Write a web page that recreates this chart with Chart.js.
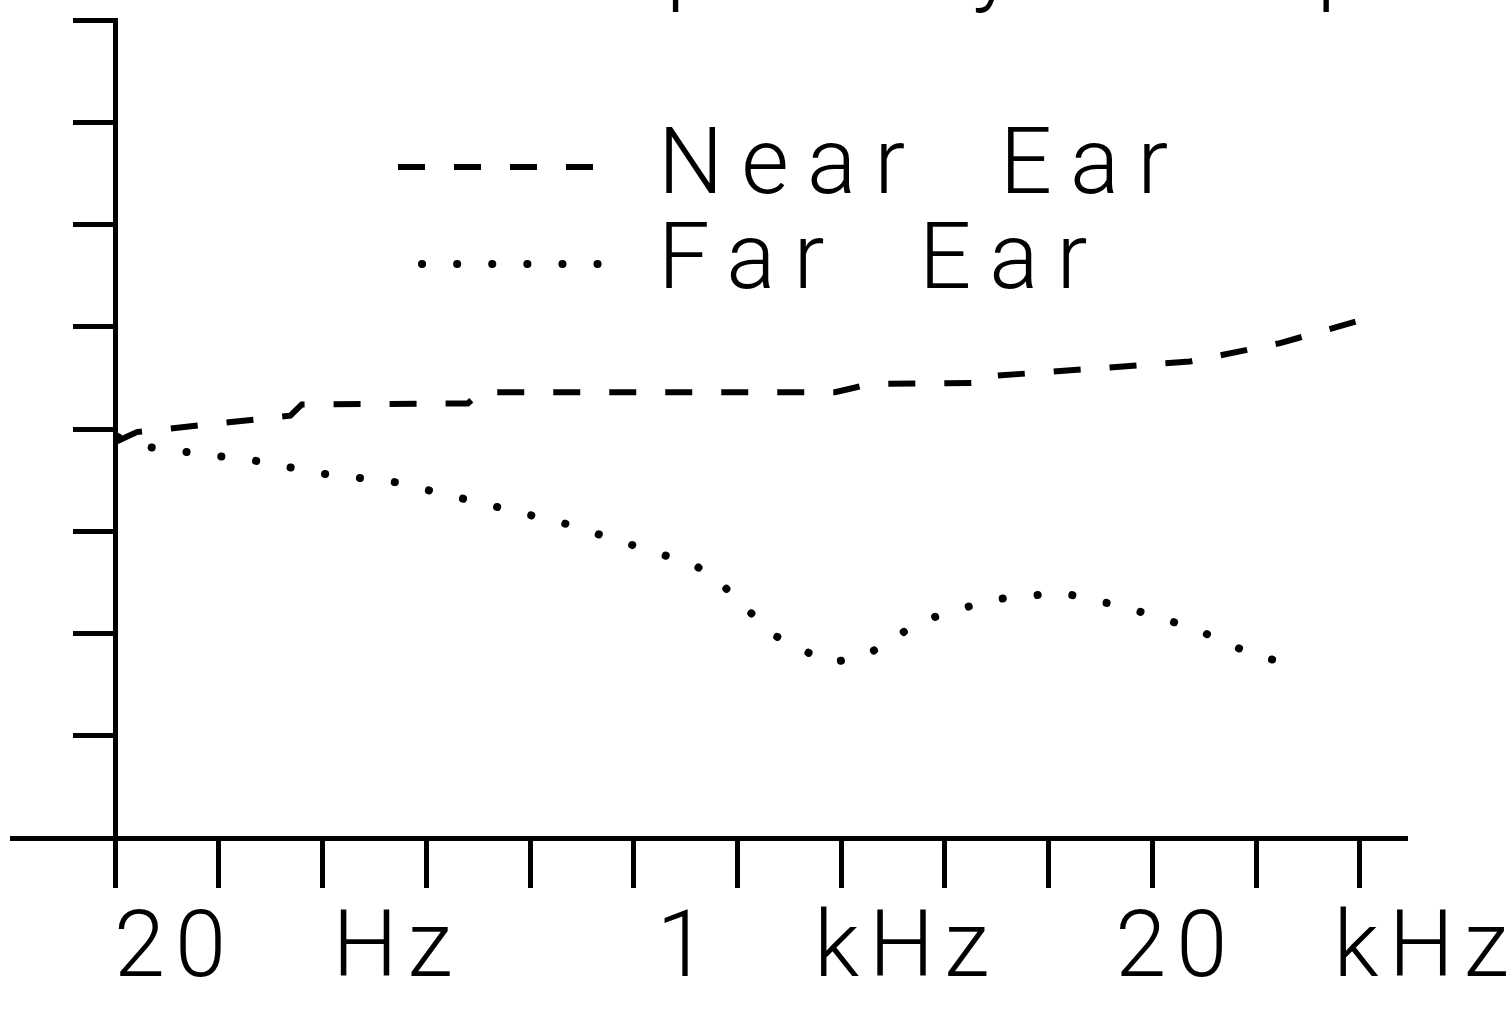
<!DOCTYPE html>
<html>
<head>
<meta charset="utf-8">
<title>Near Ear / Far Ear</title>
<script src="https://cdn.jsdelivr.net/npm/chart.js@4.4.1/dist/chart.umd.min.js"></script>
<style>
    html, body { margin: 0; padding: 0; background: #fff; }
    #wrap { width: 1511px; height: 1009px; }
</style>
</head>
<body>
<div id="wrap"><canvas id="earChart"></canvas></div>
<script>
// values are in axis tick units: x ticks 0..12, y ticks 0..8
var nearX = [0.02, 0.21, 1.69, 1.80, 3.40, 3.52, 6.94, 7.28, 8.39, 8.48, 10.36, 11.23, 12.03];
var nearY = [3.88, 3.97, 4.13, 4.24, 4.25, 4.36, 4.36, 4.44, 4.45, 4.52, 4.66, 4.84, 5.07];

var farX = [0.03, 0.34, 1.35, 2.02, 2.70, 4.32, 5.59, 5.87, 6.34, 6.88, 7.23, 7.77, 8.44, 9.12, 9.73, 10.40, 11.02, 11.34];
var farY = [3.92, 3.82, 3.69, 3.56, 3.48, 3.08, 2.67, 2.46, 1.99, 1.71, 1.78, 2.12, 2.33, 2.40, 2.26, 2.05, 1.77, 1.71];

var xTicks = [0, 1, 2, 3, 4, 5, 6, 7, 8, 9, 10, 11, 12];
var yTicks = [0, 1, 2, 3, 4, 5, 6, 7, 8];
var xLabels = ['20 Hz', '1 kHz', '20 kHz'];
var seriesNames = ['Near Ear', 'Far Ear'];
var titleText = 'Frequency Response';

// where the labels start, in x units
var xLabelAt = [-0.01, 5.22, 9.64];

var FONT = '300 92px Roboto, "DejaVu Sans", sans-serif';

function toPoints(xs, ys) {
    var pts = [];
    for (let i = 0; i < xs.length; i++) {
        pts.push({ x: xs[i], y: ys[i] });
    }
    return pts;
}

var textPlugin = {
    id: 'earText',
    afterDraw: function (chart) {
        var ctx = chart.ctx;
        var xs = chart.scales.x;
        ctx.save();
        ctx.fillStyle = '#000';
        ctx.font = FONT;
        ctx.textBaseline = 'alphabetic';
        ctx.textAlign = 'left';
        ctx.letterSpacing = '18px';
        ctx.wordSpacing = '36px';

        // title, mostly above the top edge
        ctx.fillText(titleText, 452, -7);

        // legend
        var rows = [{ y: 167, base: 193, x1: 398, x2: 604 }, { y: 264, base: 288, x1: 422, x2: 600 }];
        chart.data.datasets.forEach(function (ds, i) {
            var r = rows[i];
            ctx.save();
            ctx.strokeStyle = ds.borderColor;
            ctx.lineWidth = ds.borderWidth;
            ctx.lineCap = ds.borderCapStyle || 'butt';
            ctx.setLineDash(ds.borderDash);
            ctx.beginPath();
            ctx.moveTo(r.x1, r.y);
            ctx.lineTo(r.x2, r.y);
            ctx.stroke();
            ctx.restore();
            ctx.fillText(ds.label, 658, r.base);
        });

        // x axis labels
        ctx.letterSpacing = '10px';
        ctx.wordSpacing = '64px';
        xLabels.forEach(function (lbl, i) {
            ctx.fillText(lbl, xs.getPixelForValue(xLabelAt[i]), 976);
        });
        ctx.restore();
    }
};

var ctx = document.getElementById('earChart');
var earChart = new Chart(ctx, {
    type: 'line',
    data: {
        datasets: [
            {
                label: seriesNames[0],
                data: toPoints(nearX, nearY),
                borderColor: '#000',
                borderWidth: 6,
                borderDash: [27, 29],
                borderCapStyle: 'butt',
                pointRadius: 0,
                tension: 0,
                fill: false
            },
            {
                label: seriesNames[1],
                data: toPoints(farX, farY),
                borderColor: '#000',
                borderWidth: 8,
                borderDash: [0.1, 35],
                borderCapStyle: 'round',
                pointRadius: 0,
                tension: 0,
                fill: false
            }
        ]
    },
    options: {
        responsive: true,
        maintainAspectRatio: false,
        animation: false,
        layout: {
            padding: { left: 12, right: 106, top: 20, bottom: 121 }
        },
        plugins: {
            legend: { display: false },
            tooltip: { enabled: false },
            title: { display: false }
        },
        scales: {
            x: {
                type: 'linear',
                min: -0.993,
                max: 12.434,
                afterBuildTicks: function (axis) {
                    axis.ticks = xTicks.map(function (v) { return { value: v }; });
                },
                ticks: { display: false },
                grid: {
                    drawOnChartArea: false,
                    drawTicks: true,
                    tickLength: 50,
                    color: '#000',
                    lineWidth: 5
                },
                border: { display: true, color: '#000', width: 5 }
            },
            y: {
                type: 'linear',
                min: 0,
                max: 8,
                position: { x: 0 },
                afterBuildTicks: function (axis) {
                    axis.ticks = yTicks.map(function (v) { return { value: v }; });
                },
                ticks: { display: false },
                grid: {
                    drawOnChartArea: false,
                    drawTicks: true,
                    tickLength: 40,
                    color: '#000',
                    lineWidth: 5
                },
                border: { display: true, color: '#000', width: 5 }
            }
        }
    },
    plugins: [textPlugin]
});
</script>
</body>
</html>
